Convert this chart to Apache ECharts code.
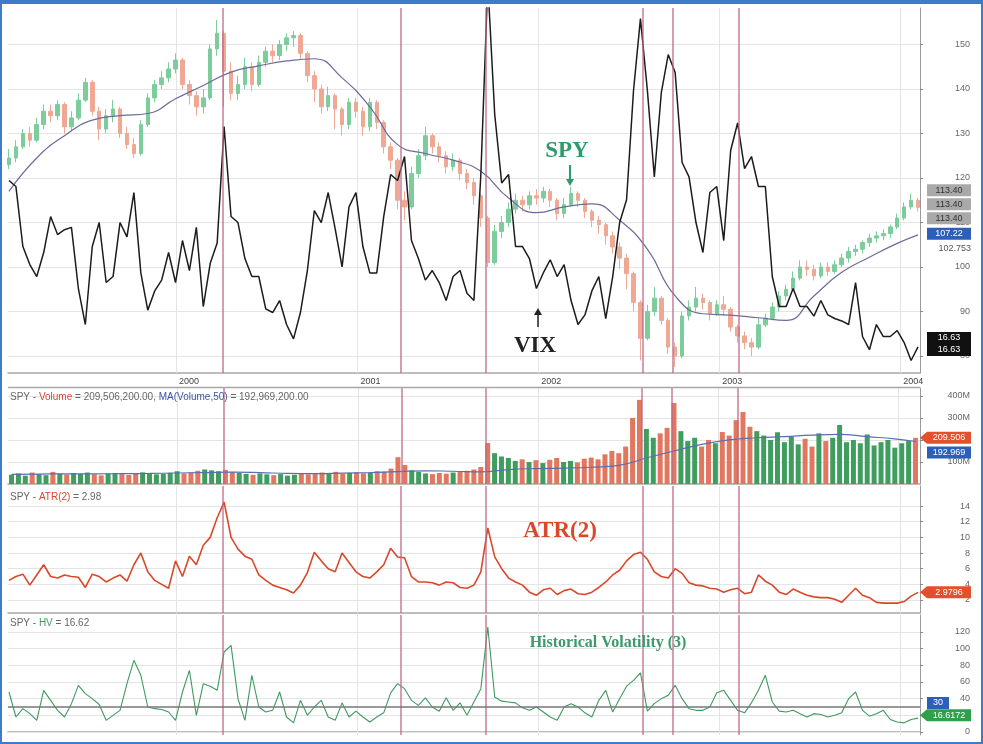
<!DOCTYPE html>
<html><head><meta charset="utf-8">
<script src="https://cdn.jsdelivr.net/npm/echarts@6/dist/echarts.min.js"></script>
<style>html,body{margin:0;padding:0;background:#fff}#c{width:983px;height:744px}</style>
</head><body><div id="c"></div>
<script>
// ---------------- DATA (bi-weekly samples) ----------------
const startDate = [1999, 0, 29];
const stepDays = 14;
const spyOpen = [123.0,124.5,127.0,130.0,128.5,132.0,135.0,134.0,136.5,131.5,133.5,137.5,141.5,135.0,131.0,134.0,135.5,130.0,127.5,125.5,132.0,138.0,141.0,142.5,144.5,146.5,141.0,138.5,136.0,138.0,149.0,152.5,144.0,139.0,141.0,145.0,141.0,146.0,148.5,147.5,150.0,151.5,152.0,148.0,143.0,140.0,136.0,138.5,135.5,132.0,137.0,135.0,131.5,137.0,132.5,127.0,124.0,115.0,113.5,121.0,125.0,129.5,127.0,125.0,122.5,124.0,121.0,119.0,116.0,111.0,101.0,108.0,110.0,113.0,115.0,114.0,116.0,115.5,117.0,115.0,112.0,114.0,116.5,115.0,112.5,110.5,109.5,107.0,104.5,102.0,98.5,92.0,84.0,90.0,93.0,88.0,82.0,80.0,89.0,91.0,93.0,92.0,89.5,91.5,90.5,86.5,84.5,83.0,82.0,87.0,88.5,91.0,93.5,95.0,97.5,100.0,99.5,98.0,100.0,99.0,100.5,102.0,103.5,104.0,105.5,106.5,107.0,107.5,109.0,111.0,113.5,115.0];
const spyClose = [124.5,127.0,130.0,128.5,132.0,135.0,134.0,136.5,131.5,133.5,137.5,141.5,135.0,131.0,134.0,135.5,130.0,127.5,125.5,132.0,138.0,141.0,142.5,144.5,146.5,141.0,138.5,136.0,138.0,149.0,152.5,144.0,139.0,141.0,145.0,141.0,146.0,148.5,147.5,150.0,151.5,152.0,148.0,143.0,140.0,136.0,138.5,135.5,132.0,137.0,135.0,131.5,137.0,132.5,127.0,124.0,115.0,113.5,121.0,125.0,129.5,127.0,125.0,122.5,124.0,121.0,119.0,116.0,111.0,101.0,108.0,110.0,113.0,115.0,114.0,116.0,115.5,117.0,115.0,112.0,114.0,116.5,115.0,112.5,110.5,109.5,107.0,104.5,102.0,98.5,92.0,84.0,90.0,93.0,88.0,82.0,80.0,89.0,91.0,93.0,92.0,89.5,91.5,90.5,86.5,84.5,83.0,82.0,87.0,88.5,91.0,93.5,95.0,97.5,100.0,99.5,98.0,100.0,99.0,100.5,102.0,103.5,104.0,105.5,106.5,107.0,107.5,109.0,111.0,113.5,115.0,113.40];
const spyLow = [122.0,123.5,126.5,127.0,128.0,131.0,132.5,133.0,130.0,130.5,133.0,137.0,134.0,128.5,130.0,132.5,129.0,126.5,124.5,125.0,131.5,137.0,140.0,141.5,143.5,140.0,136.5,134.0,134.5,137.5,147.5,136.0,137.5,137.5,140.0,139.5,140.5,145.0,146.0,146.5,148.5,149.5,146.5,141.5,137.0,134.5,135.0,131.0,129.5,131.0,133.5,129.5,130.5,131.0,125.5,122.0,113.0,110.5,113.0,120.0,124.0,125.5,123.5,121.0,121.5,119.5,117.5,114.0,109.0,100.0,100.5,106.5,109.0,112.0,112.5,113.0,114.0,114.5,113.5,110.5,111.0,113.5,113.5,111.0,109.0,107.5,105.0,103.0,99.5,95.0,90.0,79.0,83.5,89.0,87.0,80.5,77.5,79.5,88.0,90.0,90.5,88.0,89.0,89.0,85.5,83.0,81.5,80.0,81.5,86.5,88.0,90.0,92.5,94.5,97.0,98.0,97.0,97.5,98.0,98.5,100.0,101.0,102.5,103.0,104.5,105.5,106.0,106.5,108.5,110.5,113.0,112.5];
const spyHigh = [126.5,128.5,131.0,131.5,133.5,136.5,136.5,137.5,137.0,135.0,139.0,142.5,142.0,136.0,135.5,137.5,136.0,131.5,129.0,133.0,139.0,142.0,144.0,146.0,148.0,147.0,142.0,139.5,140.0,150.0,155.5,153.0,146.0,143.0,147.0,146.0,147.5,149.5,150.0,151.0,152.5,153.0,152.5,148.5,144.0,141.0,140.5,139.0,136.0,138.0,138.0,136.0,138.0,137.5,133.0,128.0,124.5,117.0,122.5,126.5,131.5,130.0,128.0,126.0,125.5,124.5,122.0,120.0,116.5,111.5,109.5,111.5,114.5,116.5,116.0,117.0,117.5,118.0,117.5,115.5,115.5,118.0,117.0,115.5,113.0,111.5,110.0,108.0,105.5,103.0,99.0,92.5,91.5,95.5,93.5,88.5,83.0,90.0,92.5,95.5,94.0,92.5,92.5,93.5,91.0,87.0,85.5,84.0,88.5,89.5,92.0,94.5,96.0,99.0,101.5,101.5,100.5,101.0,101.0,101.5,103.0,104.5,105.0,106.0,107.5,108.0,108.5,109.5,112.0,114.5,116.5,115.5];
const maIndex = [0,4,8,12,16,20,24,28,32,36,40,44,48,52,56,60,64,68,72,76,80,84,88,92,96,100,104,108,112,116,120,124,128,131];
const spyMa = [117,124.5,129.5,133,134,134.5,137.8,140.8,143.8,145.2,146.3,146.8,142.5,136,127.5,125.5,124,121.5,115.5,112.2,113.5,114.2,110.5,104,93.5,89.5,89.2,88.6,88,93.5,98.8,102.2,105.3,107.22];
const extraLevel = 102.753;
const vix = [30.5,30,25,23.5,22.5,24.5,27.5,26,26.4,26.6,
21.5,18.5,25,27,22,22.5,27,25.8,29.5,22.8,
19.7,21.3,22.2,24.5,22,25.5,23,26.6,20,23.6,
25.3,35,27.5,27,24,22.5,22.5,19.8,19.5,20.5,
18.5,17.3,19.5,23,28,27,29.5,26.5,23.3,28.3,
29.5,25,22.8,22.8,27.5,31,30.5,32.5,25.5,24,
22.2,23,22,20.5,22.5,23,21.1,20.5,31,47,
36,30.3,31,25,25,24,21.5,22.8,23.9,22.5,
23.5,20.5,18.5,19.3,21.3,22.5,19,22.5,27,28.9,
38,44,38,30.8,37.8,41,39.5,32,30.8,27,
24.5,29.5,30,25.5,33,35.3,31.5,32.5,30,30,
22.5,20,20,21.5,20,20,19.2,20.5,19.3,19,
18.8,18.5,22,17.5,16.4,18.5,17.5,17.5,18,17,
15.5,16.63];
const volumeM = [42,48,38,52,45,40,55,47,43,50,
46,52,44,39,48,50,45,41,47,53,
49,44,46,51,58,48,52,60,66,62,
58,64,55,50,46,42,48,44,40,45,
38,42,47,44,50,52,48,55,46,50,
53,48,52,58,56,70,122,86,62,55,
48,45,50,47,52,55,60,66,77,186,
140,125,118,105,112,100,108,95,110,118,
100,105,98,115,120,112,135,150,140,170,
300,382,250,210,230,255,368,240,195,210,
170,200,185,236,220,290,327,260,240,220,
200,235,190,215,180,205,170,230,195,210,
268,190,200,185,225,175,190,200,165,185,
195,209.5062];
const volMaM = [44,45,46,46,47,48,50,52,54,52,48,47,49,52,56,60,58,55,65,70,72,76,85,118,150,180,200,210,215,222,225,215,205,192.9692];
const atr = [4.5,5.0,5.3,3.9,5.2,6.5,5.0,4.8,5.2,5.0,
4.9,3.6,5.3,5.0,4.3,4.8,5.2,4.4,6.5,8.0,
5.6,4.5,4.0,3.5,7.0,5.0,7.6,6.5,9.0,10.0,
12.5,14.5,10.0,8.5,7.6,7.2,5.2,4.5,3.9,3.6,
3.3,2.9,3.9,5.5,8.1,7.0,6.0,5.6,8.0,6.8,
5.6,5.0,4.8,5.6,6.5,8.6,7.5,7.4,5.0,4.3,
4.3,4.2,3.9,4.3,4.2,3.6,3.5,3.9,5.6,11.2,
7.5,6.0,4.8,4.3,3.9,3.0,2.6,3.3,3.5,2.7,
3.2,3.4,2.8,2.7,3.0,3.6,4.3,5.2,5.8,7.0,
7.8,8.1,7.2,5.6,5.0,4.8,6.0,5.4,4.2,3.9,
3.8,3.5,3.4,3.0,3.3,3.5,2.8,3.0,5.2,4.4,
3.9,3.0,2.7,3.4,3.0,2.6,2.4,2.3,2.3,2.1,
1.7,2.6,3.5,2.6,2.3,1.7,1.6,1.6,1.6,1.8,
2.5,2.9796];
const hv = [48,18,28,22,14,50,38,26,18,34,
56,46,40,33,14,20,26,58,86,68,
30,28,27,24,14,48,74,20,58,55,
50,96,104,40,14,68,30,24,26,48,
18,11,38,20,30,38,18,14,35,18,
25,18,12,18,23,47,58,52,38,32,
41,30,25,41,26,35,20,36,52,126,
42,37,36,35,29,26,30,24,18,14,
30,34,30,23,18,38,50,24,40,55,
62,71,25,34,40,44,56,40,28,26,
26,30,47,50,38,26,23,35,50,68,
36,25,24,26,22,18,22,21,18,20,
23,40,48,26,19,22,26,15,12,11,
15,16.6172];
const hvLevel = 30;
const eventDates = ['2000-04-04','2001-03-30','2001-09-17','2002-07-31','2002-09-30','2003-02-10'];
const yearLines = ['2000-01-01','2001-01-01','2002-01-01','2003-01-01','2004-01-01'];
const priceTicks = [80,90,100,110,120,130,140,150];
const volTicks = [100,200,300,400];
const atrTicks = [2,4,6,8,10,12,14];
const hvTicks = [0,20,40,60,80,100,120];

// ---------------- BUILD ----------------
const DAY = 86400000;
const t0 = new Date(startDate[0], startDate[1], startDate[2]).getTime();
const dates = spyClose.map((_, i) => t0 + i * stepDays * DAY);
const ts = s => { const p = s.split('-').map(Number); return new Date(p[0], p[1]-1, p[2]).getTime(); };
const xMin = ts('1999-01-27'), xMax = ts('2004-02-10');
const last = dates.length - 1;

const UP = '#7ccc9c', DOWN = '#eea893';
const EVT = '#bd6684', GRIDC = '#e4e4e4';
const FONT = 'Liberation Sans';

const grids = [
  {left: 8, right: 63, top: 8, height: 365},
  {left: 8, right: 63, top: 388, height: 96},
  {left: 8, right: 63, top: 486, height: 127},
  {left: 8, right: 63, top: 615, height: 120}
];
const yearFmt = v => { const d = new Date(v); return (d.getMonth() === 0 && d.getDate() === 1) ? String(d.getFullYear()) : ''; };
const xAxes = grids.map((g, k) => ({
  type: 'time', gridIndex: k, min: xMin, max: xMax, splitNumber: 5,
  axisLine: {show: true, lineStyle: {color: '#a8a8a8', width: 1.5}},
  axisTick: {show: false}, splitLine: {show: false},
  axisLabel: {show: k === 0, formatter: yearFmt, color: '#444', fontSize: 9, fontFamily: FONT, align: 'left', margin: 4, padding: [0, 0, 0, 3]}
}));
function rightAxis(gi, min, max, ticks, fmt) {
  return {
    type: 'value', gridIndex: gi, position: 'right', min: min, max: max,
    axisLine: {show: true, lineStyle: {color: '#9a9a9a'}},
    axisTick: {show: true, length: 3, customValues: ticks, lineStyle: {color: '#888'}},
    axisLabel: {show: true, customValues: ticks, formatter: fmt, color: '#666', fontSize: 9, fontFamily: FONT, align: 'right', margin: 50},
    splitLine: {show: false}
  };
}
const yAxes = [
  rightAxis(0, 76.18, 158.2, priceTicks, v => String(v)),
  {type: 'value', gridIndex: 0, min: 14.46, max: 44.88, show: false, splitLine: {show: false}},
  rightAxis(1, 0, 436, volTicks, v => v + 'M'),
  rightAxis(2, 0.34, 16.56, atrTicks, v => String(v)),
  rightAxis(3, -3.6, 140.4, hvTicks, v => String(v))
];
const gridLines = ticks => ticks.map(v => ({yAxis: v}))
  .concat(yearLines.map(d => ({xAxis: ts(d)})));
const eventLines = () => eventDates.map(d => ({xAxis: ts(d)}));
const mlGrid = ticks => ({silent: true, symbol: 'none', z: 1, animation: false, label: {show: false},
  lineStyle: {color: GRIDC, width: 1, type: 'solid'}, data: gridLines(ticks)});
const mlEvents = extra => ({silent: true, symbol: 'none', z: 6, animation: false, label: {show: false},
  lineStyle: {color: EVT, width: 1.5, type: 'solid', opacity: 0.85}, data: eventLines().concat(extra || [])});

const candleData = dates.map((d, i) => [d, spyOpen[i], spyClose[i], spyLow[i], spyHigh[i]]);
const maData = maIndex.map((idx, k) => [dates[idx], spyMa[k]]);
const vixData = dates.map((d, i) => [d, vix[i]]);
const volData = dates.map((d, i) => ({value: [d, volumeM[i]], itemStyle: {color: spyClose[i] >= spyOpen[i] ? '#3f9e5f' : '#e2775f'}}));
const volMaData = maIndex.map((idx, k) => [dates[idx], volMaM[k]]);
const atrData = dates.map((d, i) => [d, atr[i]]);
const hvData = dates.map((d, i) => [d, hv[i]]);

const series = [
  {type: 'line', xAxisIndex: 0, yAxisIndex: 0, data: maData, smooth: true, symbol: 'none', z: 3,
   lineStyle: {color: '#6c6c9c', width: 1.2}, markLine: mlGrid(priceTicks)},
  {type: 'candlestick', xAxisIndex: 0, yAxisIndex: 0, data: candleData, encode: {x: 0, y: [1, 2, 3, 4]}, barWidth: 4, z: 2,
   itemStyle: {color: UP, color0: DOWN, borderColor: UP, borderColor0: DOWN, borderWidth: 1}},
  {type: 'line', xAxisIndex: 0, yAxisIndex: 1, data: vixData, symbol: 'none', z: 4, clip: true,
   lineStyle: {color: '#1c1c1c', width: 1.5}, markLine: mlEvents()},
  {type: 'bar', xAxisIndex: 1, yAxisIndex: 2, data: volData, barWidth: 5, z: 2, markLine: mlGrid(volTicks)},
  {type: 'line', xAxisIndex: 1, yAxisIndex: 2, data: volMaData, smooth: true, symbol: 'none', z: 3,
   lineStyle: {color: '#5a6fb0', width: 1.2}, markLine: mlEvents()},
  {type: 'line', xAxisIndex: 2, yAxisIndex: 3, data: atrData, symbol: 'none', z: 3,
   lineStyle: {color: '#d9482b', width: 1.6}, markLine: mlGrid(atrTicks)},
  {type: 'line', xAxisIndex: 2, yAxisIndex: 3, data: [], symbol: 'none', markLine: mlEvents()},
  {type: 'line', xAxisIndex: 3, yAxisIndex: 4, data: hvData, symbol: 'none', z: 3,
   lineStyle: {color: '#3f9a5e', width: 1.1}, markLine: mlGrid(hvTicks)},
  {type: 'line', xAxisIndex: 3, yAxisIndex: 4, data: [], symbol: 'none',
   markLine: mlEvents([{yAxis: hvLevel, lineStyle: {color: '#777', width: 1.6, opacity: 1}}])}
];

const chart = echarts.init(document.getElementById('c'), null, {renderer: 'canvas'});
chart.setOption({
  animation: false, backgroundColor: '#fff',
  grid: grids, xAxis: xAxes, yAxis: yAxes, series: series
});

// ---------------- TEXT / TAGS ----------------
const fmtBig = m => (m * 1e6).toLocaleString('en-US', {minimumFractionDigits: 2, maximumFractionDigits: 2});
const yp = (ax, v) => chart.convertToPixel({yAxisIndex: ax}, v);
function tag(y, text, fill, color, arrow) {
  const x0 = arrow ? 920 : 927, x1 = 971, h = 6;
  const pts = arrow ? [[x0, y], [x0 + 7, y - h], [x1, y - h], [x1, y + h], [x0 + 7, y + h]]
                    : [[x0, y - h], [x1, y - h], [x1, y + h], [x0, y + h]];
  return {type: 'group', z: 100, children: [
    {type: 'polygon', shape: {points: pts}, style: {fill: fill}, z: 100},
    {type: 'text', x: (x0 + (arrow ? 7 : 0) + x1) / 2, y: y, z: 101,
     style: {text: text, fill: color, font: '9px "' + FONT + '"', align: 'center', verticalAlign: 'middle'}}
  ]};
}
const lastClose = spyClose[last], lastMa = spyMa[spyMa.length - 1], lastVix = vix[last];
const lastVol = volumeM[last], lastVolMa = volMaM[volMaM.length - 1], lastAtr = atr[last], lastHv = hv[last];
const gTags = [
  tag(yp(0, lastClose) - 17, lastClose.toFixed(2), '#a9a9a9', '#333', false),
  tag(yp(0, lastClose) - 3, lastClose.toFixed(2), '#a9a9a9', '#333', false),
  tag(yp(0, lastClose) + 11, lastClose.toFixed(2), '#a9a9a9', '#333', false),
  tag(yp(0, lastMa) - 1, lastMa.toFixed(2), '#2c5fb8', '#fff', false),
  {type: 'rect', shape: {x: 927, y: yp(0, extraLevel) - 11, width: 46, height: 9}, style: {fill: '#fff'}, z: 99},
  {type: 'text', x: 971, y: yp(0, extraLevel) - 6, z: 100, style: {text: String(extraLevel), fill: '#555', font: '9px "' + FONT + '"', align: 'right', verticalAlign: 'middle'}},
  tag(yp(1, lastVix) - 9, lastVix.toFixed(2), '#111', '#fff', false),
  tag(yp(1, lastVix) + 3, lastVix.toFixed(2), '#111', '#fff', false),
  tag(yp(2, lastVol), lastVol.toFixed(3), '#e4502b', '#fff', true),
  tag(yp(2, lastVolMa) + 11, lastVolMa.toFixed(3), '#2c5fb8', '#fff', false),
  tag(yp(3, lastAtr), lastAtr.toFixed(4), '#e4502b', '#fff', true),
  {type: 'group', z: 100, children: [
    {type: 'rect', shape: {x: 927, y: yp(4, hvLevel) - 10, width: 22, height: 12}, style: {fill: '#2c5fb8'}, z: 100},
    {type: 'text', x: 938, y: yp(4, hvLevel) - 4, z: 101, style: {text: String(hvLevel), fill: '#fff', font: '9px "' + FONT + '"', align: 'center', verticalAlign: 'middle'}}
  ]},
  tag(yp(4, lastHv) - 3, lastHv.toFixed(4), '#2ea04a', '#fff', true)
];
const titleFont = '10px "' + FONT + '"';
const serif = 'bold {s}px "Liberation Serif"';
const gText = [
  {type: 'text', x: 10, y: 397, z: 50, style: {
    text: '{g|SPY - }{r|Volume}{g| = ' + fmtBig(lastVol) + ', }{b|MA(Volume,50)}{g| = ' + fmtBig(lastVolMa) + '}',
    verticalAlign: 'middle', rich: {g: {fill: '#666', font: titleFont}, r: {fill: '#d9482b', font: titleFont}, b: {fill: '#3b55a8', font: titleFont}}}},
  {type: 'text', x: 10, y: 497, z: 50, style: {
    text: '{g|SPY - }{r|ATR(2)}{g| = ' + lastAtr.toFixed(2) + '}',
    verticalAlign: 'middle', rich: {g: {fill: '#666', font: titleFont}, r: {fill: '#d9482b', font: titleFont}}}},
  {type: 'text', x: 10, y: 623, z: 50, style: {
    text: '{g|SPY - }{r|HV}{g| = ' + lastHv.toFixed(2) + '}',
    verticalAlign: 'middle', rich: {g: {fill: '#666', font: titleFont}, r: {fill: '#3f9a5e', font: titleFont}}}},
  {type: 'text', x: 567, y: 151, z: 60, style: {text: 'SPY', fill: '#2f9b6c', font: serif.replace('{s}', 23), align: 'center', verticalAlign: 'middle'}},
  {type: 'line', z: 60, shape: {x1: 570, y1: 165, x2: 570, y2: 180}, style: {stroke: '#2f9b6c', lineWidth: 2}},
  {type: 'polygon', z: 60, shape: {points: [[566, 179], [574, 179], [570, 186]]}, style: {fill: '#2f9b6c'}},
  {type: 'text', x: 535, y: 346, z: 60, style: {text: 'VIX', fill: '#222', font: serif.replace('{s}', 23), align: 'center', verticalAlign: 'middle'}},
  {type: 'line', z: 60, shape: {x1: 538, y1: 327, x2: 538, y2: 314}, style: {stroke: '#222', lineWidth: 1.5}},
  {type: 'polygon', z: 60, shape: {points: [[534, 315], [542, 315], [538, 308]]}, style: {fill: '#222'}},
  {type: 'text', x: 560, y: 531, z: 60, style: {text: 'ATR(2)', fill: '#d9482b', font: serif.replace('{s}', 23), align: 'center', verticalAlign: 'middle'}},
  {type: 'text', x: 608, y: 643, z: 60, style: {text: 'Historical Volatility (3)', fill: '#3a9a6a', font: serif.replace('{s}', 16), align: 'center', verticalAlign: 'middle'}},
  {type: 'line', z: 40, shape: {x1: 8, y1: 387.5, x2: 920, y2: 387.5}, style: {stroke: '#a8a8a8', lineWidth: 1.5}},
  {type: 'rect', z: 200, shape: {x: 1, y: 1, width: 981, height: 742}, style: {fill: 'none', stroke: '#3d7cc9', lineWidth: 2}},
  {type: 'rect', z: 200, shape: {x: 0, y: 0, width: 983, height: 4}, style: {fill: '#3d7cc9'}}
];
chart.setOption({graphic: gText.concat(gTags)});
</script></body></html>
